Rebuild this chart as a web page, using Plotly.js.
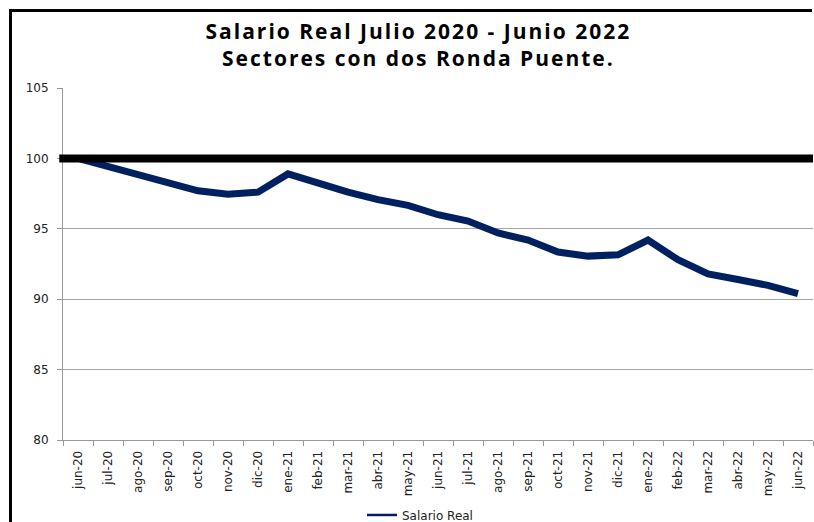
<!DOCTYPE html>
<html>
<head>
<meta charset="utf-8">
<script src="https://cdn.plot.ly/plotly-3.0.1.min.js"></script>
<style>
  html, body { margin: 0; padding: 0; background: #fff; }
  #wrap { position: relative; width: 814px; height: 522px; }
  #chart { width: 814px; height: 522px; }
  #frame { position: absolute; left: 9px; top: 9px; right: 2px; bottom: 0; border-left: 3px solid #000; border-top: 3px solid #000; pointer-events: none; }
  #chart .gtitle { letter-spacing: 2px; }
</style>
</head>
<body>
<div id="wrap">
  <div id="chart"></div>
  <div id="frame"></div>
</div>
<script>
const months = ["jun-20","jul-20","ago-20","sep-20","oct-20","nov-20","dic-20","ene-21","feb-21","mar-21","abr-21","may-21","jun-21","jul-21","ago-21","sep-21","oct-21","nov-21","dic-21","ene-22","feb-22","mar-22","abr-22","may-22","jun-22"];
const salarioReal = [100.0, 99.4, 98.8, 98.2, 97.7, 97.45, 97.6, 98.9, 98.2, 97.6, 97.07, 96.66, 96.0, 95.55, 94.7, 94.2, 93.35, 93.06, 93.15, 94.2, 92.8, 91.8, 91.4, 90.98, 90.4];
const referenceLevel = 100;
const yTicks = [80, 85, 90, 95, 100, 105];
const seriesName = 'Salario Real';

const traces = [{
  x: months,
  y: salarioReal,
  type: 'scatter',
  mode: 'lines',
  name: seriesName,
  showlegend: false,
  line: { color: '#002060', width: 7 }
}, {
  // legend entry only (thin line as in the reference legend)
  x: [months[0]],
  y: [null],
  type: 'scatter',
  mode: 'lines',
  name: seriesName,
  showlegend: true,
  line: { color: '#002060', width: 2.5 }
}];

const layout = {
  width: 814,
  height: 522,
  margin: { l: 63, r: 1, t: 88, b: 82, autoexpand: false },
  paper_bgcolor: '#ffffff',
  plot_bgcolor: '#ffffff',
  title: {
    text: '<b>Salario Real Julio 2020 - Junio 2022<br>Sectores con dos Ronda Puente.</b>',
    font: { family: '"Open Sans", Lato, sans-serif', size: 21, color: '#000' },
    x: 0.514, xanchor: 'center', xref: 'container',
    y: 0.926, yanchor: 'top', yref: 'container'
  },
  xaxis: {
    type: 'category',
    range: [-0.5, months.length - 0.5],
    tickangle: -90,
    tickson: 'boundaries',
    ticks: 'outside',
    ticklen: 5,
    tickcolor: '#999',
    ticklabelstandoff: 5,
    showline: true,
    linecolor: '#999',
    linewidth: 1,
    showgrid: false,
    zeroline: false,
    automargin: false,
    tickfont: { family: '"DejaVu Sans", Verdana, sans-serif', size: 12, color: '#222' },
    fixedrange: true
  },
  yaxis: {
    range: [80, 105],
    tickvals: yTicks,
    ticktext: yTicks.map(String),
    ticks: 'outside',
    ticklen: 5,
    tickcolor: '#999',
    ticklabelstandoff: 6,
    showline: true,
    linecolor: '#999',
    linewidth: 1,
    showgrid: true,
    gridcolor: '#a6a6a6',
    gridwidth: 1,
    zeroline: false,
    automargin: false,
    tickfont: { family: '"DejaVu Sans", Verdana, sans-serif', size: 12, color: '#222' },
    fixedrange: true
  },
  shapes: [{
    type: 'line',
    xref: 'paper', yref: 'y',
    x0: -0.005, x1: 1.0,
    y0: referenceLevel, y1: referenceLevel,
    line: { color: '#000', width: 8 },
    layer: 'above'
  }],
  showlegend: true,
  legend: {
    orientation: 'h',
    x: 0.476, xanchor: 'center',
    y: -0.213, yanchor: 'middle',
    font: { family: '"DejaVu Sans", Verdana, sans-serif', size: 12, color: '#222' },
    itemwidth: 30
  }
};

Plotly.newPlot('chart', traces, layout, { displayModeBar: false, staticPlot: true });
</script>
</body>
</html>
